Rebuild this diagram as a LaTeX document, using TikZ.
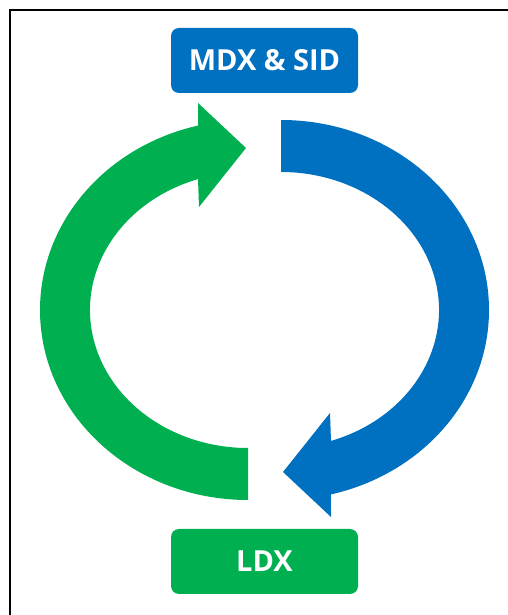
\documentclass[tikz,border=0pt]{standalone}
\usepackage{fontspec}
\setmainfont{Open Sans}
\definecolor{cblue}{HTML}{0070C0}
\definecolor{cgreen}{HTML}{00B050}
\begin{document}
\begin{tikzpicture}[x=1pt,y=1pt,
  labelbox/.style={rounded corners=8pt, minimum width=187pt, minimum height=65pt,
    inner sep=0pt, text=white, font=\bfseries\fontsize{29}{32}\selectfont}]
\useasboundingbox (0,0) rectangle (508,615);
% frame
\draw[line width=2pt] (10,0) -- (10,605) -- (508,605);
% label boxes
\node[labelbox, fill=cblue] (top) at (264.5,554.5) {MDX \& SID};
\node[labelbox, fill=cgreen] (bot) at (264.5,53.5) {LDX};
% green arrow
\fill[cgreen] (248,115)
  arc[start angle=-90, end angle=-256.1, x radius=208, y radius=190]
  -- (198,512) -- (246,467) -- (199,408) -- (198,435.9)
  arc[start angle=108.45, end angle=270, x radius=158, y radius=138]
  -- cycle;
% blue arrow (point-symmetric copy)
\begin{scope}[rotate around={180:(264.5,305)}]
\fill[cblue] (248,115)
  arc[start angle=-90, end angle=-256.1, x radius=208, y radius=190]
  -- (198,512) -- (246,467) -- (199,408) -- (198,435.9)
  arc[start angle=108.45, end angle=270, x radius=158, y radius=138]
  -- cycle;
\end{scope}
\end{tikzpicture}
\end{document}
